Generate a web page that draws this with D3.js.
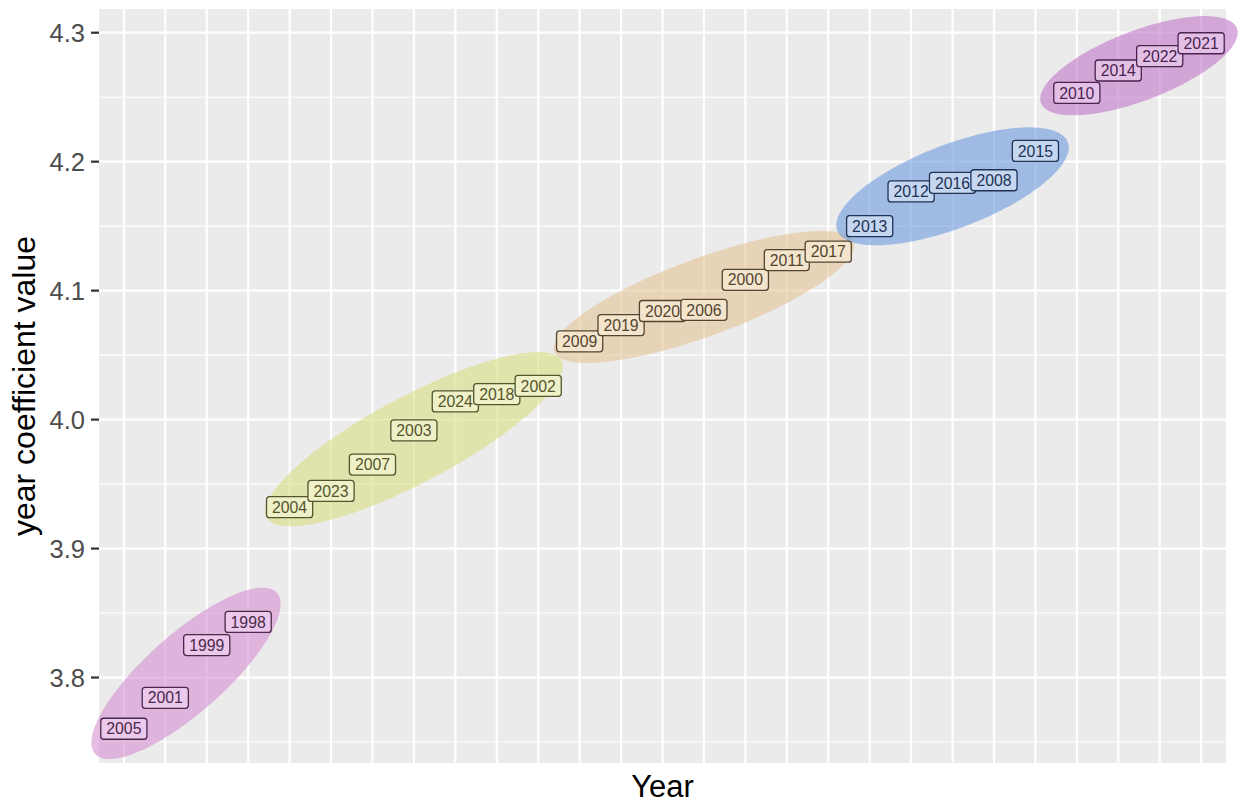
<!DOCTYPE html>
<html>
<head>
<meta charset="utf-8">
<script src="https://cdn.jsdelivr.net/npm/d3@7"></script>
<style>
  html, body { margin: 0; padding: 0; background: #ffffff; }
  svg { display: block; font-family: "Liberation Sans", Arial, sans-serif; }
</style>
</head>
<body>
<svg id="chart" width="1239" height="806"></svg>
<script>
// Years ordered by their estimated coefficient
const years = ["2005","2001","1999","1998","2004","2023","2007","2003","2024","2018","2002",
  "2009","2019","2020","2006","2000","2011","2017","2013","2012","2016","2008","2015",
  "2010","2014","2022","2021"];
const coefs = [3.7603, 3.7843, 3.8252, 3.8431, 3.9321, 3.9447, 3.9651, 3.9916, 4.0141, 4.0198, 4.0262,
  4.0607, 4.0733, 4.0842, 4.0851, 4.1084, 4.1237, 4.1302, 4.1500, 4.1769, 4.1836, 4.1856, 4.2083,
  4.2533, 4.2707, 4.2818, 4.2918];
// Group each year belongs to
const groups = [1,1,1,1, 2,2,2,2,2,2,2, 3,3,3,3,3,3,3, 4,4,4,4,4, 5,5,5,5];
const yTicks = [3.8, 3.9, 4.0, 4.1, 4.2, 4.3];

// Per-group styling: hull fill, label fill, label text/border
const hullFill  = {1: "#d68fd4", 2: "#d9df82", 3: "#e3c396", 4: "#6e9bde", 5: "#c176ca"};
const labelFill = {1: "#ecc8ec", 2: "#eef0c8", 3: "#f2e4cd", 4: "#c5d7f0", 5: "#e3c1e7"};
const labelInk  = {1: "#4a2a4a", 2: "#55552d", 3: "#55442d", 4: "#1e3255", 5: "#4b2350"};

const data = years.map((y, i) => ({year: y, value: coefs[i], group: groups[i]}));

const svg = d3.select("#chart");
const panel = {left: 99, right: 1226, top: 9, bottom: 763};
const W = panel.right - panel.left, H = panel.bottom - panel.top;

const x = d3.scalePoint().domain(years).range([panel.left, panel.right]).padding(0.6);
const yMin = d3.min(coefs), yMax = d3.max(coefs), pad = (yMax - yMin) * 0.05;
const y = d3.scaleLinear().domain([yMin - pad, yMax + pad]).range([panel.bottom, panel.top]);

// panel background
svg.append("rect")
  .attr("x", panel.left).attr("y", panel.top)
  .attr("width", W).attr("height", H)
  .attr("fill", "#ebebeb");

const grid = svg.append("g");
// minor horizontal gridlines halfway between major ticks
const minor = d3.range(yTicks.length + 1).map(i => yTicks[0] - 0.05 + i * 0.1)
  .filter(v => y(v) > panel.top && y(v) < panel.bottom);
grid.selectAll("line.minor").data(minor).join("line")
  .attr("x1", panel.left).attr("x2", panel.right)
  .attr("y1", d => y(d)).attr("y2", d => y(d))
  .attr("stroke", "#ffffff").attr("stroke-width", 1.1);
grid.selectAll("line.hmajor").data(yTicks).join("line")
  .attr("x1", panel.left).attr("x2", panel.right)
  .attr("y1", d => y(d)).attr("y2", d => y(d))
  .attr("stroke", "#ffffff").attr("stroke-width", 2.2);
grid.selectAll("line.vmajor").data(years).join("line")
  .attr("y1", panel.top).attr("y2", panel.bottom)
  .attr("x1", d => x(d)).attr("x2", d => x(d))
  .attr("stroke", "#ffffff").attr("stroke-width", 2.2);

// Spread ellipse of a group: centred on the mean, shaped by twice the covariance,
// then grown by a margin (slightly wider horizontally than vertically).
const growX = 35, growY = 31;
const sy = growX / growY;
function groupEllipse(pts) {
  const P = pts.map(p => [p[0], p[1] * sy]);
  const mx = d3.mean(P, p => p[0]), my = d3.mean(P, p => p[1]);
  const n = P.length;
  const sxx = 2 * d3.sum(P, p => (p[0] - mx) ** 2) / n;
  const syy = 2 * d3.sum(P, p => (p[1] - my) ** 2) / n;
  const sxy = 2 * d3.sum(P, p => (p[0] - mx) * (p[1] - my)) / n;
  const mid = (sxx + syy) / 2, rad = Math.sqrt(((sxx - syy) / 2) ** 2 + sxy ** 2);
  const l1 = mid + rad, l2 = Math.max(mid - rad, 0);
  const angle = 0.5 * Math.atan2(2 * sxy, sxx - syy);
  const ra = Math.sqrt(l1) + growX, rb = Math.sqrt(l2) + growX;
  const cos = Math.cos(angle), sin = Math.sin(angle);
  return d3.range(0, 240).map(k => {
    const t = k / 240 * 2 * Math.PI;
    const ex = ra * Math.cos(t), ey = rb * Math.sin(t);
    return [mx + ex * cos - ey * sin, (my + ex * sin + ey * cos) / sy];
  });
}

const hulls = d3.groups(data, d => d.group).map(([g, rows]) => ({
  group: g,
  outline: groupEllipse(rows.map(d => [x(d.year), y(d.value)]))
}));

svg.append("g").selectAll("path").data(hulls).join("path")
  .attr("d", d => d3.line()(d.outline) + "Z")
  .attr("fill", d => hullFill[d.group]).attr("fill-opacity", 0.6);

// y axis ticks and labels
const yAxis = svg.append("g");
yAxis.selectAll("line").data(yTicks).join("line")
  .attr("x1", panel.left - 8).attr("x2", panel.left)
  .attr("y1", d => y(d)).attr("y2", d => y(d))
  .attr("stroke", "#333333").attr("stroke-width", 2.2);
yAxis.selectAll("text").data(yTicks).join("text")
  .attr("x", panel.left - 14).attr("y", d => y(d)).attr("dy", "0.36em")
  .attr("text-anchor", "end").attr("fill", "#4d4d4d")
  .attr("font-size", 25.5)
  .text(d => d3.format(".1f")(d));

// year labels
const labels = svg.append("g").selectAll("g").data(data).join("g")
  .attr("transform", d => `translate(${x(d.year)},${y(d.value)})`);
labels.each(function(d) {
  const g = d3.select(this);
  const t = g.append("text")
    .attr("text-anchor", "middle").attr("dy", "0.36em")
    .attr("font-size", 15.8).attr("fill", labelInk[d.group])
    .text(d.year);
  const w = t.node().getComputedTextLength() + 11;
  const h = 21;
  g.insert("rect", "text")
    .attr("x", -w / 2).attr("y", -h / 2).attr("width", w).attr("height", h)
    .attr("rx", 3).attr("ry", 3)
    .attr("fill", labelFill[d.group]).attr("stroke", labelInk[d.group]).attr("stroke-width", 1.3);
});

// axis titles
svg.append("text")
  .attr("x", (panel.left + panel.right) / 2).attr("y", 797)
  .attr("text-anchor", "middle").attr("font-size", 31).attr("fill", "#000000")
  .text("Year");
svg.append("text")
  .attr("transform", `translate(35,${(panel.top + panel.bottom) / 2}) rotate(-90)`)
  .attr("text-anchor", "middle").attr("font-size", 32).attr("fill", "#000000")
  .text("year coefficient value");
</script>
</body>
</html>
